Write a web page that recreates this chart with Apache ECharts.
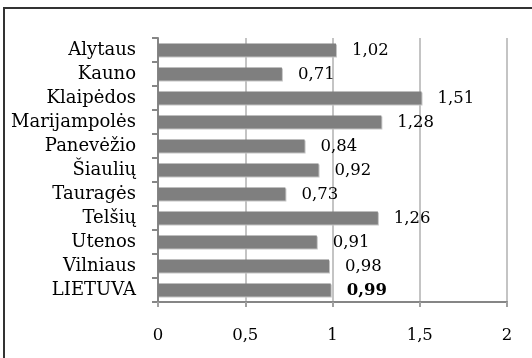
<!DOCTYPE html>
<html>
<head>
<meta charset="utf-8">
<script src="https://cdn.jsdelivr.net/npm/echarts@6/dist/echarts.min.js"></script>
<style>
  html, body { margin: 0; padding: 0; background: #fff; overflow: hidden; }
  #frame { position: absolute; left: 3px; top: 7px; width: 600px; height: 400px; border-left: 2px solid #333; border-top: 2px solid #333; }
  #chart { position: absolute; left: 0; top: 0; width: 532px; height: 358px; }
</style>
</head>
<body>
<div id="frame"></div>
<div id="chart"></div>
<script>
// apskritys, from top to bottom
const categories = ["Alytaus", "Kauno", "Klaipėdos", "Marijampolės", "Panevėžio", "Šiaulių", "Tauragės", "Telšių", "Utenos", "Vilniaus", "LIETUVA"];
const values = [1.02, 0.71, 1.51, 1.28, 0.84, 0.92, 0.73, 1.26, 0.91, 0.98, 0.99];
const boldCategory = "LIETUVA";
const xTicks = [0, 0.5, 1, 1.5, 2];

const font = "DejaVu Serif";
const comma = v => String(v).replace(".", ",");

const chart = echarts.init(document.getElementById("chart"));
chart.setOption({
  animation: false,
  grid: { left: 158, right: 25, top: 38, bottom: 56 },
  xAxis: {
    type: "value",
    min: xTicks[0],
    max: xTicks[xTicks.length - 1],
    interval: 0.5,
    axisLine: { show: true, lineStyle: { color: "#868686", width: 2 } },
    axisTick: { show: true, length: 5, lineStyle: { color: "#a0a0a0", width: 2 } },
    splitLine: { show: true, lineStyle: { color: "#c4c4c4", width: 2 } },
    axisLabel: {
      margin: 25, color: "#000", fontFamily: font, fontSize: 16.5,
      formatter: v => comma(v)
    }
  },
  yAxis: {
    type: "category",
    data: categories,
    inverse: true,
    axisLine: { show: true, lineStyle: { color: "#868686", width: 2 } },
    axisTick: { show: true, length: 6, lineStyle: { color: "#868686", width: 2 } },
    axisLabel: { margin: 22, color: "#000", fontFamily: font, fontSize: 18 }
  },
  series: [{
    type: "bar",
    barWidth: 13,
    data: values.map((v, i) => ({
      value: v,
      label: { fontWeight: categories[i] === boldCategory ? "bold" : "normal" }
    })),
    itemStyle: {
      color: "#7f7f7f",
      shadowColor: "#c4c4c4",
      shadowOffsetX: 1,
      shadowOffsetY: 1,
      shadowBlur: 0
    },
    label: {
      show: true,
      position: "right",
      distance: 16,
      offset: [0, 1],
      color: "#000",
      fontFamily: font,
      fontSize: 16.5,
      formatter: p => comma(p.value)
    }
  }]
});
</script>
</body>
</html>
